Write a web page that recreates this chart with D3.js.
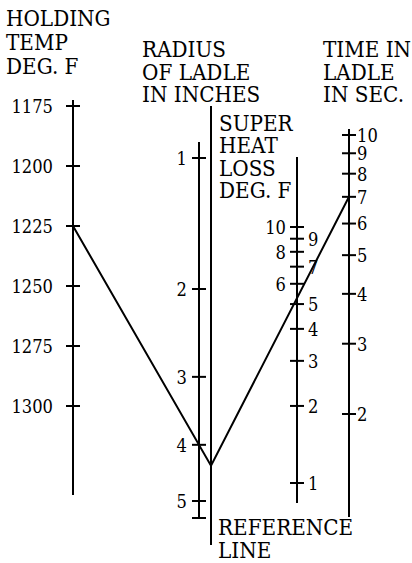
<!DOCTYPE html>
<html>
<head>
<meta charset="utf-8">
<script src="https://cdn.jsdelivr.net/npm/d3@7/dist/d3.min.js"></script>
<style>
  html, body { margin: 0; padding: 0; background: #fff; }
  svg { display: block; }
  text { font-family: "DejaVu Serif", serif; fill: #000; }
</style>
</head>
<body>
<svg id="chart" width="412" height="563"></svg>
<script>
// ---- data ----
const tempTicks = [1175, 1200, 1225, 1250, 1275, 1300];
const radiusTicks = [1, 2, 3, 4, 5];
const superheatTicks = [1, 2, 3, 4, 5, 6, 7, 8, 9, 10];
const superheatLeftLabels = [6, 8, 10];
const timeTicks = [2, 3, 4, 5, 6, 7, 8, 9, 10];

const exampleTemp = 1225;
const exampleRadius = 4;
const exampleTime = 7;

const tempTitle = ["HOLDING", "TEMP", "DEG. F"];
const radiusTitle = ["RADIUS", "OF LADLE", "IN INCHES"];
const superheatTitle = ["SUPER", "HEAT", "LOSS", "DEG. F"];
const timeTitle = ["TIME IN", "LADLE", "IN SEC."];
const refTitle = ["REFERENCE", "LINE"];

// ---- layout ----
const svg = d3.select("#chart");
const X = { temp: 73, radius: 199, ref: 211, superheat: 297, time: 349 };

const yTemp = d3.scaleLinear().domain([1175, 1300]).range([106, 406]);
const yRadius = d3.scalePow().exponent(0.25).domain([1, 5]).range([158, 501]);
const ySuper = d3.scaleLog().domain([1, 10]).range([483, 227]);
const yTime = d3.scaleLog().domain([2, 10]).range([414, 135]);

const SW = 2, TK = 7;
const LABEL_SIZE = 19, LABEL_SX = 0.86;
const TITLE_SIZE = 22, TITLE_SX = 0.91;

function axisLine(x, y0, y1) {
  svg.append("line").attr("x1", x).attr("x2", x).attr("y1", y0).attr("y2", y1)
    .attr("stroke", "#000").attr("stroke-width", SW);
}
function ticks(x, vals, scale) {
  svg.append("g").selectAll("line").data(vals).join("line")
    .attr("x1", x - TK).attr("x2", x + TK)
    .attr("y1", d => scale(d)).attr("y2", d => scale(d))
    .attr("stroke", "#000").attr("stroke-width", SW);
}
function labels(vals, scale, x, anchor) {
  svg.append("g").selectAll("text").data(vals).join("text")
    .attr("transform", d => `translate(${x},${scale(d)}) scale(${LABEL_SX},1)`)
    .attr("dy", "0.36em")
    .attr("text-anchor", anchor).attr("font-size", LABEL_SIZE)
    .text(d => d);
}
function title(lines, x, y0, dy) {
  svg.append("g").selectAll("text").data(lines).join("text")
    .attr("transform", (d, i) => `translate(${x},${y0 + i * dy}) scale(${TITLE_SX},1)`)
    .attr("font-size", TITLE_SIZE)
    .text(d => d);
}

// Holding temp axis
axisLine(X.temp, 100, 495);
ticks(X.temp, tempTicks, yTemp);
labels(tempTicks, yTemp, 53, "end");

// Radius axis
axisLine(X.radius, 142, 518);
ticks(X.radius, radiusTicks, yRadius);
svg.append("line").attr("x1", X.radius - TK).attr("x2", X.radius + TK)
  .attr("y1", 518).attr("y2", 518).attr("stroke", "#000").attr("stroke-width", SW);
labels(radiusTicks, yRadius, 187, "end");

// Reference line
axisLine(X.ref, 106, 545);

// Superheat axis
axisLine(X.superheat, 157, 503);
ticks(X.superheat, superheatTicks, ySuper);
labels(superheatTicks.filter(d => superheatLeftLabels.includes(d)), ySuper, 286, "end");
labels(superheatTicks.filter(d => !superheatLeftLabels.includes(d)), ySuper, 308, "start");

// Time axis
axisLine(X.time, 129, 517);
ticks(X.time, timeTicks, yTime);
labels(timeTicks, yTime, 357, "start");

// Titles
title(tempTitle, 6, 26, 24);
title(radiusTitle, 142, 57, 22.5);
title(superheatTitle, 219, 131, 22.3);
title(timeTitle, 323, 57, 22.5);
title(refTitle, 218, 535, 23);

// Example index line: temp -> radius -> reference line -> time
const A = [X.temp, yTemp(exampleTemp)];
const B = [X.radius, yRadius(exampleRadius)];
const R = [X.ref, A[1] + (B[1] - A[1]) * (X.ref - A[0]) / (B[0] - A[0])];
const C = [X.time, yTime(exampleTime)];
svg.append("path")
  .attr("d", d3.line()([A, R, C]))
  .attr("fill", "none").attr("stroke", "#000").attr("stroke-width", SW);
</script>
</body>
</html>
